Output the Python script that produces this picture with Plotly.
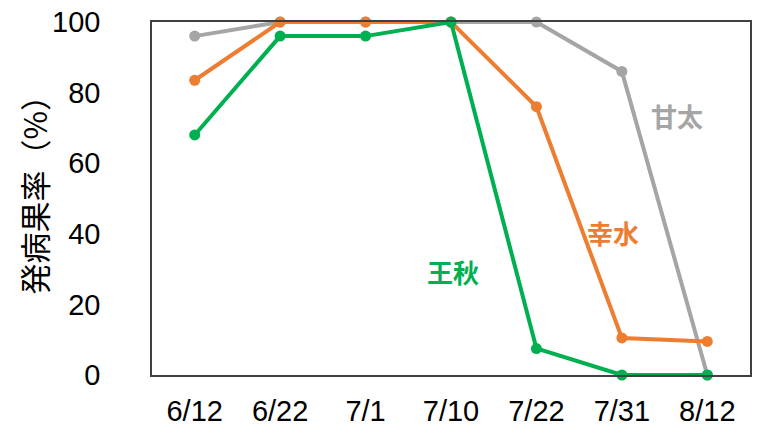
import plotly.graph_objects as go

dates = ["6/12", "6/22", "7/1", "7/10", "7/22", "7/31", "8/12"]
kanta = [96, 100, 100, 100, 100, 86, 0]      # 甘太
kousui = [83.5, 100, 100, 100, 76, 10.5, 9.5]  # 幸水
oushuu = [68, 96, 96, 100, 7.5, 0, 0]       # 王秋
y_ticks = [0, 20, 40, 60, 80, 100]

series = [
    ("甘太", kanta, "#A5A5A5"),
    ("幸水", kousui, "#ED7D31"),
    ("王秋", oushuu, "#00B050"),
]
label_pos = {"甘太": (5.65, 73.6), "幸水": (4.9, 40.5), "王秋": (3.02, 29.2)}

fig = go.Figure()
for name, vals, color in series:
    fig.add_trace(go.Scatter(
        x=dates, y=vals, mode="lines+markers", name=name,
        line=dict(color=color, width=4),
        marker=dict(color=color, size=11),
        showlegend=False, cliponaxis=False,
    ))
    lx, ly = label_pos[name]
    fig.add_annotation(x=lx, y=ly, xref="x", yref="y", text=f"<b>{name}</b>",
                       showarrow=False,
                       font=dict(family="Noto Sans CJK JP", size=26, color=color))

# y-axis title placed as rotated annotation
fig.add_annotation(x=-0.198, y=0.533, xref="paper", yref="paper",
                   text="発病果率（%）", textangle=-90, showarrow=False,
                   xanchor="center", yanchor="middle",
                   font=dict(family="Noto Sans CJK JP", size=31, color="#000000"))

fig.update_layout(
    width=772, height=429,
    margin=dict(l=152, r=22, t=22, b=54),
    paper_bgcolor="white", plot_bgcolor="white",
    font=dict(family="Liberation Sans", color="#000000"),
)
fig.update_xaxes(
    type="category", categoryorder="array", categoryarray=dates,
    range=[-0.5, 6.5], automargin=False,
    showline=True, mirror=True, linecolor="#404040", linewidth=1.5,
    showgrid=False, ticks="", tickfont=dict(size=29, family="Liberation Sans"),
    ticklabelstandoff=9,
)
fig.update_yaxes(
    range=[0, 100], tickvals=y_ticks, automargin=False,
    showline=True, mirror=True, linecolor="#404040", linewidth=1.5,
    showgrid=False, zeroline=False, ticks="",
    tickfont=dict(size=29, family="Liberation Sans"),
    ticklabelstandoff=44,
)
fig.write_html("out.html")
